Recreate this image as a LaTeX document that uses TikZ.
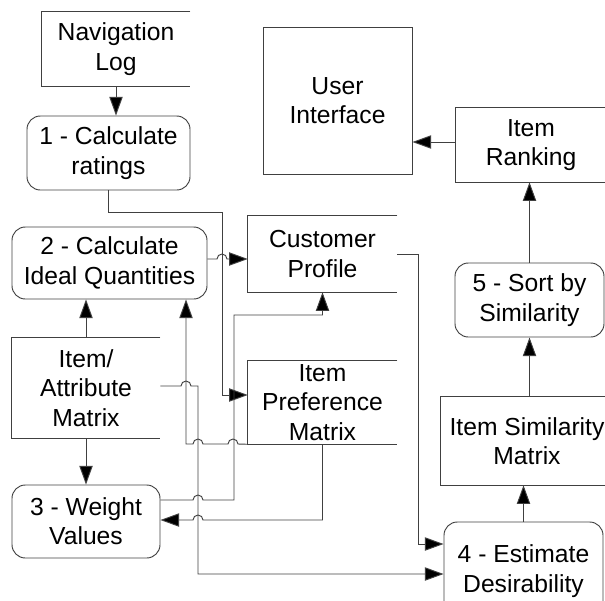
\documentclass[tikz,border=0pt]{standalone}
\usepackage{fontspec}
\setmainfont{Liberation Sans}
\usetikzlibrary{arrows.meta}
\begin{document}
\begin{tikzpicture}[x=0.75pt,y=-0.75pt,
  every node/.style={font=\fontsize{18.5}{22}\selectfont, align=center, inner sep=0pt},
  wire/.style={draw=black!75, line width=0.7pt},
  arr/.style={wire, -{Triangle[length=14pt,width=10pt,fill=black]}},
  proc/.style={wire, rounded corners=10pt},
  plainbox/.style={wire},
  store/.style={}]
\useasboundingbox (0,0) rectangle (605,600);
\clip (0,0) rectangle (605,600);

% processes, data stores and the interface
\node[store, minimum width=111pt, minimum height=55.5pt] (nav) at (116,49) {Navigation\\Log};
\node[proc, minimum width=122.25pt, minimum height=55.5pt] (c1) at (108.5,153) {1 - Calculate\\ratings};
\node[proc, minimum width=146.25pt, minimum height=54pt] (c2) at (109.5,263) {2 - Calculate\\Ideal Quantities};
\node[store, minimum width=111.75pt, minimum height=57pt] (cp) at (322.5,254) {Customer\\Profile};
\node[store, minimum width=111pt, minimum height=75pt] (iam) at (86,388) {Item/\\Attribute\\Matrix};
\node[store, minimum width=111.75pt, minimum height=62.25pt] (ipm) at (322.5,402.5) {Item\\Preference\\Matrix};
\node[proc, minimum width=111pt, minimum height=54.75pt] (c3) at (86,521.5) {3 - Weight\\Values};
\node[plainbox, minimum width=111.75pt, minimum height=110.25pt] (ui) at (337.5,100.5) {User\\Interface};
\node[store, minimum width=112.5pt, minimum height=55.5pt] (ir) at (531,145) {Item\\Ranking};
\node[proc, minimum width=111.75pt, minimum height=55.5pt] (c5) at (529.5,300) {5 - Sort by\\Similarity};
\node[store, minimum width=129pt, minimum height=66pt] (ism) at (527,441) {Item Similarity\\Matrix};
\node[proc, minimum width=119.25pt, minimum height=73.5pt] (c4) at (523.5,571) {4 - Estimate\\Desirability};

% data stores are open on the right
\foreach \n in {nav,cp,iam,ipm,ir,ism}
  \draw[wire] (\n.north east) -- (\n.north west) -- (\n.south west) -- (\n.south east);

% flows
\draw[arr] (nav.south) -- (nav.south |- c1.north);
\draw[arr] (c1.south) |- (222,212) |- (ipm.west |- 0,395);
\draw[arr] (c2.east |- 0,259) -- (217,259) arc[start angle=180,end angle=360,radius=5] -- (cp.west |- 0,259);
\draw[arr] (iam.north) -- (iam.north |- c2.south);
\draw[arr] (iam.south) -- (iam.south |- c3.north);
\draw[arr] (ipm.south west) -- (238,444) arc[start angle=0,end angle=-180,radius=5]
  -- (203,444) arc[start angle=0,end angle=-180,radius=5] -- (186,444) -- (186,0 |- c2.south);
\draw[arr] (iam.east |- 0,386) -- (181,386) arc[start angle=180,end angle=360,radius=5]
  -- (198,386) -- (198,574) -- (c4.west |- 0,574);
\draw[arr] (c3.east |- 0,500) -- (193,500) arc[start angle=180,end angle=360,radius=5]
  -- (234,500) -- (234,315) -| (cp.south);
\draw[arr] (ipm.south) |- (203,520) arc[start angle=0,end angle=-180,radius=5] -- (c3.east |- 0,520);
\draw[arr] (cp.east) -| (418,544) -- (c4.west |- 0,544);
\draw[arr] (c4.north) -- (c4.north |- ism.south);
\draw[arr] (c5.south |- ism.north) -- (c5.south);
\draw[arr] (c5.north) -- (c5.north |- ir.south);
\draw[arr] (ir.west |- 0,142) -- (ui.east |- 0,142);
\end{tikzpicture}
\end{document}
